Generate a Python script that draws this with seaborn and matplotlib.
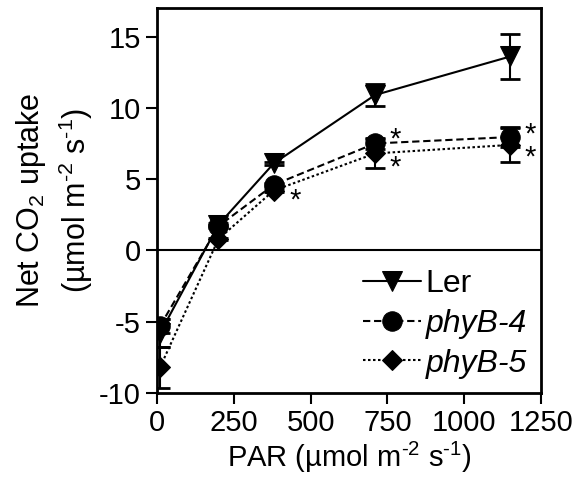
import matplotlib
matplotlib.use('Agg')
import matplotlib.pyplot as plt
import seaborn as sns
import pandas as pd

# ---- data ----
par = [10, 200, 380, 710, 1150]
ler = [-5.8, 1.8, 6.1, 10.9, 13.6]
ler_err = [1.0, 0.1, 0.1, 0.8, 1.6]
phyb4 = [-5.3, 1.7, 4.6, 7.5, 7.95]
phyb4_err = [0.5, 0.1, 0.1, 0.4, 0.7]
phyb5 = [-8.2, 0.8, 4.2, 6.8, 7.4]
phyb5_err = [1.45, 0.1, 0.1, 1.0, 1.2]
series_names = ["Ler", "phyB-4", "phyB-5"]
star_x = [450, 775, 775, 1215, 1215]
star_y = [3.5, 7.75, 5.8, 8.1, 6.5]
xticks = [0, 250, 500, 750, 1000, 1250]
yticks = [-10, -5, 0, 5, 10, 15]

sns.set_theme(style="ticks")
plt.rcParams['font.family'] = ['Liberation Sans', 'DejaVu Sans']
plt.rcParams['mathtext.fontset'] = 'custom'
plt.rcParams['mathtext.rm'] = 'Liberation Sans'
plt.rcParams['mathtext.it'] = 'Liberation Sans:italic'
plt.rcParams['axes.unicode_minus'] = False
for k in ['text.color', 'axes.labelcolor', 'xtick.color', 'ytick.color', 'axes.edgecolor']:
    plt.rcParams[k] = 'black'

FS = 21
fig = plt.figure(figsize=(5.81, 4.91), dpi=100)
ax = fig.add_axes([157/581, 1-393/491, (541-157)/581, (393-8)/491])

styles = {
    "Ler": dict(marker='v', ls='-', ms=14),
    "phyB-5": dict(marker='D', ls=(0, (1.2, 1.2)), ms=10),
    "phyB-4": dict(marker='o', ls=(0, (3.5, 1.8)), ms=14),
}
data = {"Ler": (ler, ler_err), "phyB-4": (phyb4, phyb4_err), "phyB-5": (phyb5, phyb5_err)}

ax.axhline(0, color='black', lw=1.5, zorder=1)

handles = {}
for i, name in enumerate(["Ler", "phyB-5", "phyB-4"]):
    vals, errs = data[name]
    df = pd.DataFrame({"PAR": par, "val": vals})
    st = styles[name]
    ax.errorbar(par, vals, yerr=errs, fmt='none', ecolor='black', elinewidth=1.5,
                capsize=7, capthick=2, zorder=2 + i)
    sns.lineplot(data=df, x="PAR", y="val", ax=ax, color='black', lw=1.5,
                 linestyle=st['ls'], marker=st['marker'], markersize=st['ms'],
                 markeredgecolor='black', markerfacecolor='black', zorder=3 + i)
    handles[name] = ax.lines[-1]

for sx, sy in zip(star_x, star_y):
    ax.text(sx, sy, "*", fontsize=FS, ha='center', va='center', color='black')

ax.set_xlim(0, 1250)
ax.set_ylim(-10, 17)
ax.set_xticks(xticks)
ax.set_yticks(yticks)
ax.tick_params(axis='both', labelsize=FS, width=1.5, length=8, direction='out', color='black')
for sp in ax.spines.values():
    sp.set_linewidth(2)
    sp.set_color('black')

ax.set_xlabel(r"PAR (µmol m$^{\text{-2}}$ s$^{\text{-1}}$)", fontsize=FS, labelpad=2)
ax.set_ylabel("Net CO$_2$ uptake\n(µmol m$^{\\text{-2}}$ s$^{\\text{-1}}$)", fontsize=22,
              labelpad=3, linespacing=1.3)

leg_h = [handles[n] for n in series_names]
leg = ax.legend(leg_h, series_names, loc='lower right',
                bbox_to_anchor=(1.0, 0.0), frameon=False, fontsize=23,
                handlelength=1.8, handletextpad=0.15, labelspacing=0.3,
                borderpad=0.2, borderaxespad=0.25)
for t in leg.get_texts()[1:]:
    t.set_fontstyle('italic')

fig.savefig("out.png", dpi=100)
